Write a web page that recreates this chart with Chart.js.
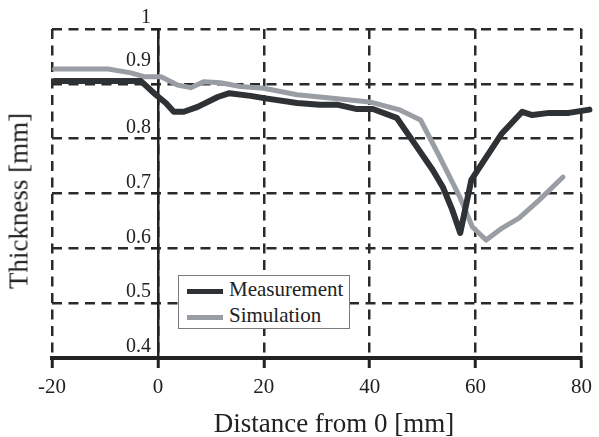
<!DOCTYPE html>
<html>
<head>
<meta charset="utf-8">
<script src="https://cdn.jsdelivr.net/npm/chart.js@4"></script>
<style>
  html, body { margin: 0; padding: 0; background: #fff; }
  #wrap { position: relative; width: 599px; height: 437px; font-family: "Liberation Serif", serif; color: #222; }
  #legendBox {
    position: absolute; left: 178px; top: 275px; width: 170px; height: 52px;
    background: #fff; border: 1px solid #7a7d80; font-size: 21px;
  }
  .legend-item { position: absolute; left: 8px; height: 26px; line-height: 26px; white-space: nowrap; }
  .legend-line { display: inline-block; width: 36px; height: 5px; vertical-align: middle; margin-right: 6px; }
  .axis-title { position: absolute; font-size: 27px; line-height: 27px; white-space: nowrap; }
  #xTitle { left: 334px; top: 410px; transform: translateX(-50%); }
  #yTitle { left: 19px; top: 201px; transform: translate(-50%, -50%) rotate(-90deg); }
</style>
</head>
<body>
<div id="wrap">
  <canvas id="chart" width="599" height="437"></canvas>
  <div id="legendBox"></div>
  <div class="axis-title" id="xTitle">Distance from 0 [mm]</div>
  <div class="axis-title" id="yTitle">Thickness [mm]</div>
</div>
<script>
// ==================== THICKNESS CHART ====================
const xTicks = [-20, 0, 20, 40, 60, 80];
const yTicks = [0.4, 0.5, 0.6, 0.7, 0.8, 0.9, 1];

const seriesNames = ['Measurement', 'Simulation'];
const seriesColors = ['#2f3235', '#989ea3'];

const measX = [-19.5, -3.2, -0.4, 1.5, 3, 4.9, 7.5, 11.3, 13.5, 17.5, 20, 26.3, 30.6, 33.8, 37.6, 40.6, 45.1, 48.9, 51.9, 53.8, 55.6, 57.1, 59.2, 61.3, 65, 68.8, 70.7, 73.9, 77.6, 81.5];
const measY = [0.905, 0.905, 0.88, 0.865, 0.849, 0.849, 0.858, 0.876, 0.883, 0.878, 0.874, 0.865, 0.862, 0.862, 0.854, 0.854, 0.838, 0.785, 0.743, 0.712, 0.670, 0.628, 0.725, 0.756, 0.81, 0.849, 0.843, 0.847, 0.847, 0.853];

const simX = [-19.5, -9.4, -5.1, -2.6, 0.6, 3.7, 6.2, 8.7, 11.8, 15.6, 20, 26.3, 32.5, 40, 45.5, 49.6, 53.2, 57, 59.4, 62, 65, 68.2, 72, 76.5];
const simY = [0.927, 0.927, 0.92, 0.913, 0.913, 0.898, 0.893, 0.904, 0.902, 0.895, 0.892, 0.88, 0.874, 0.867, 0.853, 0.834, 0.767, 0.694, 0.639, 0.615, 0.637, 0.655, 0.688, 0.73];

const serif = '"Liberation Serif", "Times New Roman", serif';
const gridColor = '#2a2a2a';

const toPoints = (xs, ys) => xs.map((x, i) => ({ x: x, y: ys[i] }));

const ctx = document.getElementById('chart').getContext('2d');
const chart = new Chart(ctx, {
    type: 'line',
    data: {
        datasets: [
            {
                label: seriesNames[0],
                data: toPoints(measX, measY),
                borderColor: seriesColors[0],
                borderWidth: 6,
                pointRadius: 0,
                tension: 0,
                borderJoinStyle: 'round',
                borderCapStyle: 'round',
                clip: false,
                order: 1
            },
            {
                label: seriesNames[1],
                data: toPoints(simX, simY),
                borderColor: seriesColors[1],
                borderWidth: 5,
                pointRadius: 0,
                tension: 0,
                borderJoinStyle: 'round',
                borderCapStyle: 'round',
                order: 2
            }
        ]
    },
    options: {
        responsive: false,
        animation: false,
        layout: { padding: { top: 29, right: 16, bottom: 0, left: 52 } },
        plugins: { legend: { display: false }, tooltip: { enabled: false } },
        scales: {
            x: {
                type: 'linear',
                position: 'bottom',
                min: -20,
                max: 80,
                z: 1,
                afterBuildTicks: s => { s.ticks = xTicks.map(v => ({ value: v })); },
                afterFit: s => { s.height = 79; },
                ticks: {
                    font: { family: serif, size: 21 },
                    color: '#222',
                    padding: 7,
                    maxRotation: 0
                },
                grid: {
                    color: gridColor,
                    lineWidth: 2.5,
                    tickLength: 10,
                    tickColor: '#222',
                    tickWidth: 3,
                    tickBorderDash: []
                },
                border: { display: true, color: '#222', width: 4, dash: [10, 6.5] }
            },
            y: {
                type: 'linear',
                position: { x: 0 },
                min: 0.4,
                max: 1,
                z: 1,
                afterBuildTicks: s => { s.ticks = yTicks.map(v => ({ value: v })); },
                ticks: { display: false },
                grid: {
                    color: gridColor,
                    lineWidth: 2.5,
                    tickLength: 6,
                    tickColor: '#222',
                    tickWidth: 2,
                    tickBorderDash: []
                },
                border: { display: true, color: '#222', width: 2.5, dash: [10, 6.5] }
            },
            // tick labels of the thickness axis, sitting just left of the x = 0 line
            yLabels: {
                type: 'linear',
                axis: 'y',
                position: { x: -1.3 },
                min: 0.4,
                max: 1,
                z: 1,
                afterBuildTicks: s => { s.ticks = yTicks.map(v => ({ value: v })); },
                ticks: {
                    font: { family: serif, size: 20 },
                    color: '#222',
                    labelOffset: -11,
                    callback: v => {
                        const s = String(Math.round(v * 10) / 10);
                        return s === '0.9' ? [s, ''] : s;
                    }
                },
                grid: { display: false, drawTicks: false },
                border: { display: false }
            }
        }
    }
});

// legend built from the datasets
const legendBox = document.getElementById('legendBox');
legendBox.innerHTML = chart.data.datasets.map((ds, i) => `
    <div class="legend-item" style="top:${i * 26}px;">
        <span class="legend-line" style="background:${ds.borderColor};"></span>${ds.label}
    </div>`).join('');
</script>
</body>
</html>
